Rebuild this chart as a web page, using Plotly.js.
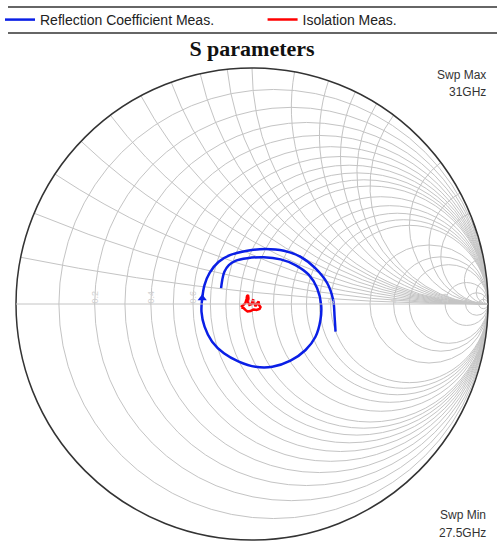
<!DOCTYPE html>
<html>
<head>
<meta charset="utf-8">
<script src="https://cdn.plot.ly/plotly-3.0.1.min.js"></script>
<style>
  html, body { margin: 0; padding: 0; background: #fff; }
  #chart { width: 504px; height: 550px; }
</style>
</head>
<body>
<div id="chart"></div>
<script>
const reflGammaRe = [-0.131, -0.126, -0.117, -0.098, -0.070, -0.020, 0.050, 0.121, 0.184, 0.241,
    0.276, 0.293, 0.290, 0.269, 0.227, 0.163, 0.086, 0.015, -0.056, -0.119,
    -0.169, -0.201, -0.214, -0.211, -0.201, -0.179, -0.141, -0.091, -0.020, 0.057,
    0.135, 0.206, 0.269, 0.319, 0.344, 0.350, 0.354];
const reflGammaIm = [0.067, 0.102, 0.137, 0.165, 0.183, 0.194, 0.198, 0.189, 0.165, 0.123,
    0.067, -0.004, -0.068, -0.139, -0.195, -0.240, -0.266, -0.266, -0.244, -0.209,
    -0.160, -0.096, -0.033, 0.024, 0.081, 0.133, 0.179, 0.208, 0.226, 0.233,
    0.226, 0.200, 0.151, 0.088, 0.017, -0.054, -0.117];
const arrowIndex = 23;

// Isolation (Gamma), small cluster near the centre
const isoGammaRe = [-0.047, -0.036, -0.028, -0.023, -0.021, -0.017, -0.015, -0.017, -0.011, -0.002,
    0.002, 0.006, 0.009, 0.015, 0.023, 0.028, 0.030, 0.036, 0.032, 0.019,
    0.006, -0.006, -0.019, -0.028, -0.036, -0.045];
const isoGammaIm = [-0.013, -0.004, 0.004, 0.021, 0.034, 0.038, 0.025, 0.009, -0.004, 0.000,
    0.013, 0.019, 0.004, -0.009, 0.004, 0.011, -0.004, -0.013, -0.021, -0.025,
    -0.023, -0.030, -0.032, -0.025, -0.017, -0.015];

// grid circles / arcs of the chart
const gridVals = [0.1, 0.2, 0.3, 0.4, 0.5, 0.6, 0.7, 0.8, 0.9, 1, 1.2, 1.4, 1.6, 1.8, 2, 3, 4, 5, 10, 20, 50];
const labelVals = [0.2, 0.4, 0.6, 1, 2, 4, 10];

// scattersmith wants normalized impedance: z = (1 + G) / (1 - G)
function toZ(re, im) {
    const real = [], imag = [];
    for (let i = 0; i < re.length; i++) {
        const a = re[i], b = im[i];
        const den = (1 - a) * (1 - a) + b * b;
        real.push((1 - a * a - b * b) / den);
        imag.push(2 * b / den);
    }
    return { real, imag };
}

const refl = toZ(reflGammaRe, reflGammaIm);
const iso = toZ(isoGammaRe, isoGammaIm);

const reflTrace = {
    type: 'scattersmith',
    real: refl.real,
    imag: refl.imag,
    mode: 'lines',
    name: 'Reflection Coefficient Meas.',
    legend: 'legend',
    line: { color: '#0a1fe6', width: 2.5, shape: 'spline' }
};

const arrowTrace = {
    type: 'scattersmith',
    real: [refl.real[arrowIndex]],
    imag: [refl.imag[arrowIndex]],
    mode: 'markers',
    showlegend: false,
    marker: { symbol: 'triangle-up', size: 8, color: '#0a1fe6' }
};

const isoTrace = {
    type: 'scattersmith',
    real: iso.real,
    imag: iso.imag,
    mode: 'lines',
    name: 'Isolation Meas.',
    legend: 'legend2',
    line: { color: '#ff0000', width: 2.5 }
};

// empty trace so that the label-only overlay subplot is drawn
const labelTrace = {
    type: 'scattersmith',
    subplot: 'smith2',
    real: [],
    imag: [],
    mode: 'markers',
    showlegend: false,
    hoverinfo: 'skip'
};

const ruleLine = { color: '#333333', width: 1.5 };

const legendBase = {
    orientation: 'h',
    xref: 'container',
    yref: 'container',
    y: 1 - 20 / 550,
    xanchor: 'left',
    yanchor: 'middle',
    font: { size: 14, color: '#222' },
    bgcolor: 'rgba(0,0,0,0)'
};

const layout = {
    width: 504,
    height: 550,
    margin: { l: 16, r: 16, t: 68, b: 10 },
    paper_bgcolor: '#ffffff',
    font: { family: 'Liberation Sans, Arial, sans-serif', color: '#222' },
    title: {
        text: '<b>S parameters</b>',
        font: { family: 'Liberation Serif, Times New Roman, serif', size: 22, color: '#111' },
        x: 0.5,
        xref: 'container',
        y: 1 - 48 / 550,
        yref: 'container',
        yanchor: 'middle'
    },
    showlegend: true,
    legend: Object.assign({}, legendBase, { x: 0 }),
    legend2: Object.assign({}, legendBase, { x: 0.521 }),
    smith: {
        domain: { x: [0, 1], y: [0, 1] },
        bgcolor: '#ffffff',
        realaxis: {
            tickvals: gridVals,
            showticklabels: false,
            ticks: '',
            gridcolor: '#c4c4c4',
            gridwidth: 1,
            linecolor: '#c4c4c4',
            linewidth: 1
        },
        imaginaryaxis: {
            tickvals: gridVals,
            showticklabels: false,
            ticks: '',
            gridcolor: '#c4c4c4',
            gridwidth: 1,
            linecolor: '#333333',
            linewidth: 1.5
        }
    },
    smith2: {
        domain: { x: [0, 1], y: [0, 1] },
        bgcolor: 'rgba(0,0,0,0)',
        realaxis: {
            tickvals: labelVals,
            showgrid: false,
            showline: false,
            ticks: '',
            tickangle: -90,
            tickfont: { size: 9, color: '#d0d0d0' }
        },
        imaginaryaxis: {
            tickvals: labelVals,
            showgrid: false,
            showline: false,
            showticklabels: false,
            ticks: ''
        }
    },
    shapes: [
        { type: 'line', xref: 'paper', yref: 'paper', x0: -8 / 472, x1: 481 / 472, y0: 533 / 472, y1: 533 / 472, line: ruleLine },
        { type: 'line', xref: 'paper', yref: 'paper', x0: -8 / 472, x1: 481 / 472, y0: 507 / 472, y1: 507 / 472, line: ruleLine }
    ],
    annotations: [
        { xref: 'paper', yref: 'paper', x: 1, y: 465 / 472, xanchor: 'right', yanchor: 'middle', text: 'Swp Max', showarrow: false, font: { size: 12, color: '#333' } },
        { xref: 'paper', yref: 'paper', x: 1, y: 448 / 472, xanchor: 'right', yanchor: 'middle', text: '31GHz', showarrow: false, font: { size: 12, color: '#333' } },
        { xref: 'paper', yref: 'paper', x: 1, y: 25 / 472, xanchor: 'right', yanchor: 'middle', text: 'Swp Min', showarrow: false, font: { size: 12, color: '#333' } },
        { xref: 'paper', yref: 'paper', x: 1, y: 7 / 472, xanchor: 'right', yanchor: 'middle', text: '27.5GHz', showarrow: false, font: { size: 12, color: '#333' } }
    ]
};

Plotly.newPlot('chart', [reflTrace, arrowTrace, isoTrace, labelTrace], layout, { displayModeBar: false });
</script>
</body>
</html>
